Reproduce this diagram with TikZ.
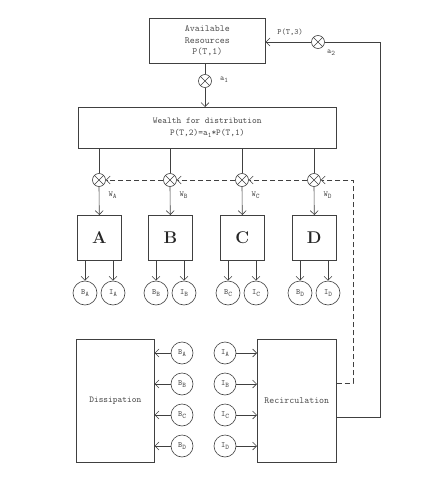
\documentclass[tikz,border=0pt]{standalone}
\usetikzlibrary{arrows.meta}
\newcommand\lowidx[1]{\raisebox{-0.45ex}{\fontsize{7}{7}\selectfont #1}}
\begin{document}
\begin{tikzpicture}[x=1pt,y=-1pt,line width=0.6pt,
  every node/.style={text=black!70,font=\ttfamily\fontsize{8}{9}\selectfont},
  tip/.style={-{Straight Barb[length=4pt,width=8pt]}},
  box/.style={draw=black!75,rectangle,inner sep=0pt,anchor=north west,align=center,font=\ttfamily\fontsize{9}{12}\selectfont},
  mult/.style={draw=black!75,circle,inner sep=0pt,minimum size=13pt,
    path picture={\draw[black!75,line width=0.6pt] (path picture bounding box.north west) -- (path picture bounding box.south east)
      (path picture bounding box.north east) -- (path picture bounding box.south west);}},
  outcirc/.style={draw=black!75,circle,inner sep=0pt,minimum size=24pt,font=\ttfamily\fontsize{8}{9}\selectfont},
  outcircs/.style={draw=black!75,circle,inner sep=0pt,minimum size=22pt,font=\ttfamily\fontsize{8}{9}\selectfont},
  bigletter/.style={font=\rmfamily\bfseries\fontsize{17}{17}\selectfont,text=black!85}]
\useasboundingbox (0,0) rectangle (434,500);
\begin{scope}[draw=black!75]
% top
\node[box,minimum width=116pt,minimum height=45pt,font=\ttfamily\fontsize{9.5}{11.5}\selectfont] (res) at (149,18) {Available\\Resources\\P(T,1)};
\node[mult] (a1) at (205,81) {};
\node (a1l) at (224,80) {a\lowidx{1}};
\node[mult] (a2) at (318,42) {};
\node (p3) at (290,32) {P(T,3)};
\node (a2l) at (331,53) {a\lowidx{2}};
\node[box,minimum width=258pt,minimum height=41pt] (wealth) at (78,107) {Wealth for distribution\\P(T,2)=a\lowidx{1}*P(T,1)};
\draw (res.south -| a1) -- (a1.north);
\draw[tip] (a1.south) -- (wealth.north -| a1);
% multipliers and units
\foreach \n/\x in {A/99,B/170,C/242,D/314}{
  \node[mult] (m\n) at (\x,180) {};
  \node[anchor=west] (w\n) at (\x+6,195) {W\lowidx{\n}};
  \node[box,minimum width=44pt,minimum height=45pt,bigletter] (u\n) at (\x-22,215) {\n};
  \node[outcirc] (B\n) at (\x-14,293) {B\lowidx{\n}};
  \node[outcirc] (I\n) at (\x+14,293) {I\lowidx{\n}};
  \draw (wealth.south -| m\n) -- (m\n.north);
  \draw[tip] (m\n.south) -- (u\n.north);
  \draw[tip] (u\n.south -| B\n) -- (B\n.north);
  \draw[tip] (u\n.south -| I\n) -- (I\n.north);
}
% bottom
\node[box,minimum width=78pt,minimum height=123pt] (diss) at (76,339) {Dissipation};
\node[box,minimum width=79pt,minimum height=123pt,font=\ttfamily\fontsize{9.5}{11}\selectfont] (rec) at (257,339) {Recirculation};
\foreach \n/\y in {A/353,B/384,C/415,D/446}{
  \node[outcircs] (b\n) at (182,\y) {B\lowidx{\n}};
  \node[outcircs] (i\n) at (225,\y) {I\lowidx{\n}};
  \draw[tip] (b\n.west) -- (diss.east |- b\n);
  \draw[tip] (i\n.east) -- (rec.west |- i\n);
}
% dashed feedback
\coordinate (d1) at (353,383);
\coordinate (d2) at (353,180);
\draw[dash pattern=on 5pt off 3pt,tip] (rec.east |- d1) -- (d1) -- (d2) -- (mD.east);
\draw[dash pattern=on 5pt off 3pt,tip] (mD.west) -- (mC.east);
\draw[dash pattern=on 5pt off 3pt,tip] (mC.west) -- (mB.east);
\draw[dash pattern=on 5pt off 3pt,tip] (mB.west) -- (mA.east);
% solid feedback
\coordinate (f1) at (380,417);
\coordinate (f2) at (380,42);
\draw (rec.east |- f1) -- (f1) -- (f2) -- (a2.east);
\draw[tip] (a2.west) -- (res.east |- a2);
\end{scope}
\end{tikzpicture}
\end{document}
